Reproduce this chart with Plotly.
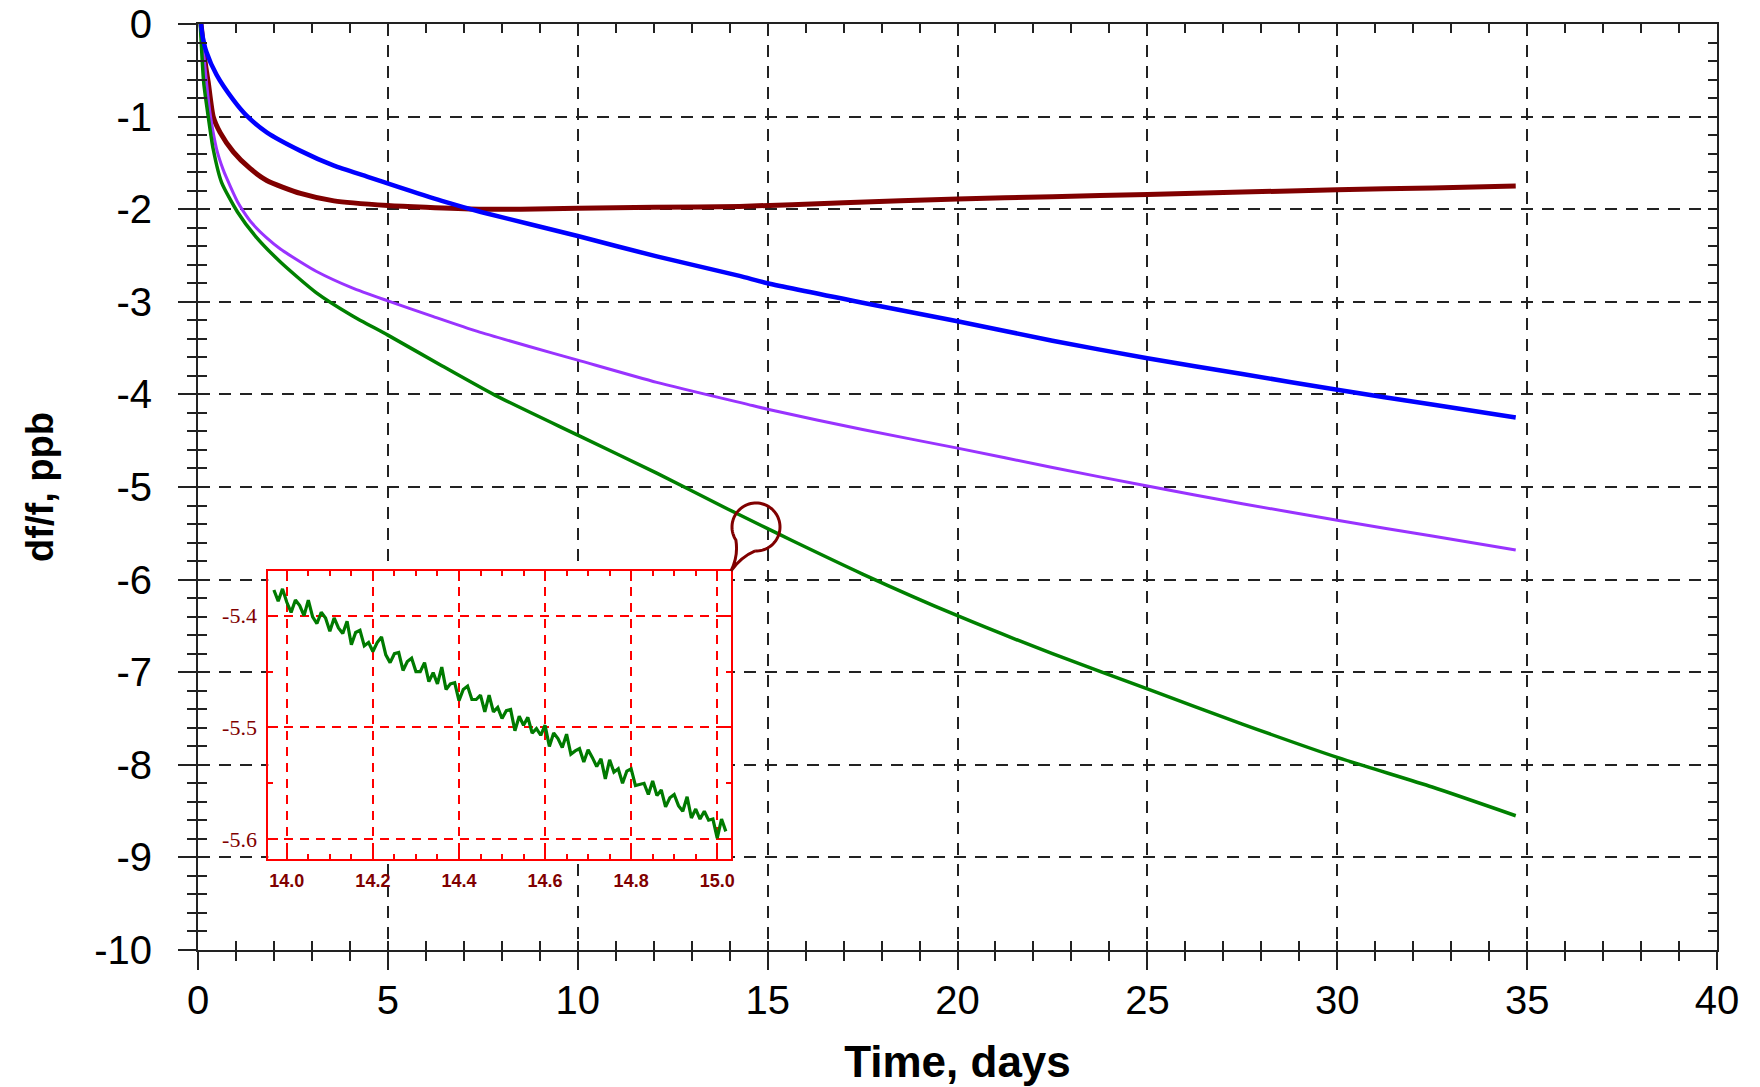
import numpy as np
import plotly.graph_objects as go

# ---------------- data ----------------
brown_t = [0.08, 0.2, 0.27, 0.4, 0.58, 0.93, 1.37, 1.81, 2.7, 3.58, 5.0, 6.0, 7.4, 8.5, 10, 12, 14.26,
           17, 20, 22.5, 25, 27.5, 30, 32.5, 34.7]
brown_v = [0, -0.45, -0.63, -1.0, -1.17, -1.38, -1.56, -1.69, -1.83, -1.91, -1.96, -1.98, -2.0, -2.0,
           -1.99, -1.98, -1.97, -1.93, -1.89, -1.865, -1.84, -1.815, -1.79, -1.77, -1.75]

blue_t = [0.08, 0.12, 0.22, 0.49, 0.93, 1.28, 1.81, 2.7, 3.58, 4.47, 5.27, 6.42, 7.45, 10, 12.08, 14.26,
          15, 17.5, 20, 22.5, 25, 27.5, 30, 32.5, 34.7]
blue_v = [0, -0.13, -0.30, -0.55, -0.82, -0.99, -1.17, -1.37, -1.53, -1.65, -1.76, -1.91, -2.03, -2.29,
          -2.51, -2.72, -2.80, -3.01, -3.21, -3.42, -3.61, -3.78, -3.95, -4.11, -4.25]

purple_t = [0.08, 0.18, 0.27, 0.33, 0.49, 0.66, 0.75, 1.04, 1.19, 1.42, 1.81, 2.17, 2.7, 3.11, 4.06, 5.0,
            6.2, 7.36, 8.7, 10, 12.08, 14.6, 15, 17.5, 20, 22.5, 25, 27.5, 30, 32.5, 34.7]
purple_v = [0, -0.45, -0.81, -1.0, -1.35, -1.57, -1.66, -1.92, -2.02, -2.15, -2.31, -2.43, -2.57, -2.67,
            -2.85, -2.99, -3.16, -3.32, -3.48, -3.63, -3.87, -4.12, -4.16, -4.38, -4.58, -4.79, -4.99,
            -5.18, -5.36, -5.53, -5.68]

green_t = [0.06, 0.15, 0.27, 0.4, 0.62, 1.04, 1.51, 2.17, 3.11, 4.06, 5.0, 6.42, 7.83, 10, 12.08, 13.96,
           15.0, 15.6, 17.5, 20, 22.5, 25, 27.5, 30, 32.5, 34.7]
green_v = [0, -0.63, -1.0, -1.35, -1.71, -2.03, -2.29, -2.57, -2.9, -3.15, -3.36, -3.69, -4.01, -4.44,
           -4.85, -5.24, -5.45, -5.57, -5.94, -6.39, -6.8, -7.18, -7.56, -7.92, -8.24, -8.55]

# inset: zoom of the green record between 14 and 15 days
inset_t = [13.97, 13.98, 13.99, 14.00, 14.01, 14.02, 14.03, 14.04, 14.05, 14.06,
           14.07, 14.08, 14.09, 14.10, 14.11, 14.12, 14.13, 14.14, 14.15, 14.16,
           14.17, 14.18, 14.19, 14.20, 14.21, 14.22, 14.23, 14.24, 14.25, 14.26,
           14.27, 14.28, 14.29, 14.30, 14.31, 14.32, 14.33, 14.34, 14.35, 14.36,
           14.37, 14.38, 14.39, 14.40, 14.41, 14.42, 14.43, 14.44, 14.45, 14.46,
           14.47, 14.48, 14.49, 14.50, 14.51, 14.52, 14.53, 14.54, 14.55, 14.56,
           14.57, 14.58, 14.59, 14.60, 14.61, 14.62, 14.63, 14.64, 14.65, 14.66,
           14.67, 14.68, 14.69, 14.70, 14.71, 14.72, 14.73, 14.74, 14.75, 14.76,
           14.77, 14.78, 14.79, 14.80, 14.81, 14.82, 14.83, 14.84, 14.85, 14.86,
           14.87, 14.88, 14.89, 14.90, 14.91, 14.92, 14.93, 14.94, 14.95, 14.96,
           14.97, 14.98, 14.99, 15.00, 15.01, 15.02]
inset_v = [-5.377, -5.387, -5.376, -5.388, -5.397, -5.386, -5.391, -5.400, -5.386, -5.401,
           -5.407, -5.397, -5.402, -5.414, -5.402, -5.411, -5.416, -5.405, -5.426, -5.415,
           -5.413, -5.427, -5.424, -5.432, -5.424, -5.419, -5.435, -5.442, -5.434, -5.433,
           -5.449, -5.441, -5.438, -5.450, -5.450, -5.442, -5.459, -5.451, -5.461, -5.446,
           -5.466, -5.461, -5.460, -5.476, -5.466, -5.463, -5.475, -5.475, -5.471, -5.486,
           -5.471, -5.486, -5.482, -5.492, -5.485, -5.484, -5.503, -5.490, -5.498, -5.491,
           -5.505, -5.501, -5.507, -5.498, -5.517, -5.505, -5.510, -5.518, -5.506, -5.524,
           -5.521, -5.519, -5.531, -5.520, -5.527, -5.535, -5.528, -5.546, -5.529, -5.540,
           -5.537, -5.550, -5.539, -5.537, -5.552, -5.551, -5.550, -5.560, -5.548, -5.561,
           -5.556, -5.571, -5.563, -5.560, -5.570, -5.575, -5.562, -5.581, -5.573, -5.582,
           -5.575, -5.583, -5.582, -5.599, -5.582, -5.593]

x_ticks = [0, 5, 10, 15, 20, 25, 30, 35, 40]
x_labels = ["0", "5", "10", "15", "20", "25", "30", "35", "40"]
y_ticks = [0, -1, -2, -3, -4, -5, -6, -7, -8, -9, -10]
y_labels = ["0", "-1", "-2", "-3", "-4", "-5", "-6", "-7", "-8", "-9", "-10"]
inset_x_ticks = [14.0, 14.2, 14.4, 14.6, 14.8, 15.0]
inset_x_labels = ["14.0", "14.2", "14.4", "14.6", "14.8", "15.0"]
inset_y_ticks = [-5.4, -5.5, -5.6]
inset_y_labels = ["-5.4", "-5.5", "-5.6"]

# ---------------- figure ----------------
W, H = 1760, 1087
L, R, T, B = 198, 1717, 24, 950
AX = "#222222"
MAROON = "#800000"

fig = go.Figure()
line_common = dict(shape="spline", smoothing=0.6)
fig.add_trace(go.Scatter(x=brown_t, y=brown_v, mode="lines",
                         line=dict(color="#800000", width=5, **line_common)))
fig.add_trace(go.Scatter(x=purple_t, y=purple_v, mode="lines",
                         line=dict(color="#9933ff", width=3, **line_common)))
fig.add_trace(go.Scatter(x=green_t, y=green_v, mode="lines",
                         line=dict(color="#008000", width=3.5, **line_common)))
fig.add_trace(go.Scatter(x=blue_t, y=blue_v, mode="lines",
                         line=dict(color="#0000ff", width=4.5, **line_common)))
# inset trace
fig.add_trace(go.Scatter(x=inset_t, y=inset_v, mode="lines", xaxis="x2", yaxis="y2",
                         line=dict(color="#007a00", width=3.2)))
# helper (empty) trace so the overlay axes carrying the inner ticks are drawn
fig.add_trace(go.Scatter(x=[None], y=[None], xaxis="x3", yaxis="y3", mode="lines",
                         hoverinfo="skip"))

font_main = "Arial, Liberation Sans, sans-serif"
serif = "Times New Roman, Liberation Serif, serif"

fig.update_layout(
    width=W, height=H,
    margin=dict(l=L, r=W - R, t=T, b=H - B, pad=0, autoexpand=False),
    paper_bgcolor="white", plot_bgcolor="white",
    showlegend=False,
    font=dict(family=font_main, color="black"),
    xaxis=dict(
        range=[0, 40], tickvals=x_ticks, ticktext=x_labels, ticks="outside", ticklen=18, tickwidth=2,
        tickcolor=AX, automargin=False,
        showline=True, linecolor=AX, linewidth=2, mirror=False, zeroline=False,
        showgrid=True, gridcolor=AX, gridwidth=2.2, griddash="12px,9px",
        minor=dict(dtick=1, ticks="outside", ticklen=9, tickwidth=2, tickcolor=AX, showgrid=False),
        tickfont=dict(size=40, family=font_main, color="black"), ticklabelstandoff=-4,
        title=dict(text="Time, days", font=dict(size=44, family=font_main, weight="bold"), standoff=25),
    ),
    yaxis=dict(
        range=[-10, 0], tickvals=y_ticks, ticktext=y_labels, ticks="outside", ticklen=18, tickwidth=2,
        tickcolor=AX, automargin=False,
        showline=True, linecolor=AX, linewidth=2, mirror=False, zeroline=False,
        showgrid=True, gridcolor=AX, gridwidth=2.2, griddash="12px,9px",
        minor=dict(dtick=0.2, ticks="outside", ticklen=9, tickwidth=2, tickcolor=AX, showgrid=False),
        tickfont=dict(size=40, family=font_main, color="black"), ticklabelstandoff=18,
        title=dict(text="df/f, ppb", font=dict(size=38, family=font_main, weight="bold"), standoff=29),
    ),
    xaxis3=dict(
        overlaying="x", anchor="y3", range=[0, 40], tickvals=x_ticks, ticks="inside", ticklen=7,
        tickwidth=2, tickcolor=AX, showticklabels=False, showgrid=False, zeroline=False,
        showline=True, linecolor=AX, linewidth=2, mirror="ticks", automargin=False,
        minor=dict(dtick=1, ticks="inside", ticklen=9, tickwidth=2, tickcolor=AX, showgrid=False),
    ),
    yaxis3=dict(
        overlaying="y", anchor="x3", range=[-10, 0], tickvals=y_ticks, ticks="inside", ticklen=7,
        tickwidth=2, tickcolor=AX, showticklabels=False, showgrid=False, zeroline=False,
        showline=True, linecolor=AX, linewidth=2, mirror="ticks", automargin=False,
        minor=dict(dtick=0.2, ticks="inside", ticklen=9, tickwidth=2, tickcolor=AX, showgrid=False),
    ),
    xaxis2=dict(
        domain=[(268.3 - L) / (R - L), (731 - L) / (R - L)], anchor="y2", automargin=False,
        range=[13.957, 15.032], tickvals=inset_x_ticks, ticktext=inset_x_labels,
        ticks="inside", ticklen=10, tickwidth=1.5, tickcolor="red",
        minor=dict(dtick=0.05, tick0=14.0, ticks="inside", ticklen=5, tickwidth=1.5, tickcolor="red",
                   showgrid=False),
        showline=True, linecolor="red", linewidth=2, mirror="ticks", zeroline=False,
        showgrid=True, gridcolor="red", gridwidth=1.5, griddash="9px,7px",
        tickfont=dict(size=18, family=font_main, color=MAROON, weight="bold"), ticklabelstandoff=4,
    ),
    yaxis2=dict(
        domain=[(B - 859.3) / (B - T), (B - 571) / (B - T)], anchor="x2", automargin=False,
        range=[-5.618, -5.360], tickvals=inset_y_ticks, ticktext=inset_y_labels,
        ticks="inside", ticklen=10, tickwidth=1.5, tickcolor="red",
        minor=dict(dtick=0.05, tick0=-5.4, ticks="inside", ticklen=5, tickwidth=1.5, tickcolor="red",
                   showgrid=False),
        showline=True, linecolor="red", linewidth=2, mirror="ticks", zeroline=False,
        showgrid=True, gridcolor="red", gridwidth=1.5, griddash="9px,7px",
        tickfont=dict(size=22, family=serif, color=MAROON),
        ticklabelstandoff=5,
    ),
)

# ---------------- callout bubble (decoration) ----------------
def px2data(px, py):
    return (px - L) / (R - L) * 40.0, -(py - T) / (B - T) * 10.0

cx, cy, r = 756.0, 527.0, 24.0
angs = np.deg2rad(np.linspace(-92, 213, 70))
pts = [(cx + r * np.cos(a), cy - r * np.sin(a)) for a in angs]
path = "M " + " L ".join("%.4f,%.4f" % px2data(*p) for p in pts)
tip = (731.0, 571.0)
c1 = (738.5, 556.0)
Bp = pts[0]
c2 = (741.0, 557.0)
path += " Q %.4f,%.4f %.4f,%.4f" % (*px2data(*c1), *px2data(*tip))
path += " Q %.4f,%.4f %.4f,%.4f" % (*px2data(*c2), *px2data(*Bp))
fig.add_shape(type="path", path=path, xref="x", yref="y", layer="above",
              line=dict(color=MAROON, width=3))

fig.write_html("out.html")
